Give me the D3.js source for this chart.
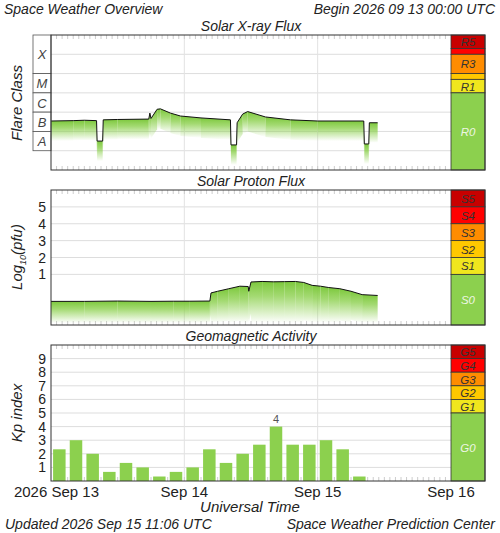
<!DOCTYPE html>
<html><head><meta charset="utf-8">
<script src="https://cdn.jsdelivr.net/npm/d3@7"></script>
<style>
body{margin:0;background:#fff;}
text{font-family:"Liberation Sans",Arial,sans-serif;fill:#222;}
.it{font-style:italic;}
</style></head><body>
<svg id="chart" width="500" height="533"></svg>
<script>
// hours since 2026 Sep 13 00:00 UTC, log10 flux (W/m2)
var xrayHours = [0, 4, 6, 8.2, 8.3, 9.3, 9.4, 12, 17.6, 17.8, 18, 19.1, 19.7, 21.5, 23.3, 27, 32.3, 32.4, 33.4, 33.5, 34.5, 35.4, 38.6, 43.1, 48, 56.3, 56.4, 57.2, 57.3, 58.8];
var xrayLog   = [-6.46, -6.44, -6.42, -6.44, -7.5, -7.5, -6.4, -6.38, -6.36, -6.05, -6.33, -5.85, -5.83, -6.05, -6.2, -6.3, -6.4, -7.7, -7.7, -6.55, -6.1, -5.97, -6.25, -6.4, -6.46, -6.46, -7.65, -7.65, -6.55, -6.55];
// log10 proton flux (pfu)
var protonHours = [0, 6, 12, 18, 22, 25, 28.6, 28.8, 30, 32, 34, 35.5, 35.6, 36, 38, 40, 42, 44, 45.5, 47, 48.5, 50, 52, 54, 56, 58.8];
var protonLog   = [-0.6, -0.6, -0.58, -0.6, -0.59, -0.59, -0.58, -0.1, 0.0, 0.15, 0.3, 0.28, 0.0, 0.55, 0.58, 0.56, 0.57, 0.58, 0.52, 0.35, 0.3, 0.22, 0.15, 0.0, -0.2, -0.25];
// 3-hourly Kp
var kpValues = [2.33, 3, 2, 0.67, 1.33, 1, 0.33, 0.67, 1, 2.33, 1.33, 2, 2.67, 4, 2.67, 2.67, 3, 2.33, 0.33];
var dayLabels = ["2026 Sep 13", "Sep 14", "Sep 15", "Sep 16"];
var flareClasses = ["X", "M", "C", "B", "A"];
var rScale = [{n:"R5",lo:-2.7,hi:-2,c:"#c80000"},{n:"R4",lo:-3,hi:-2.7,c:"#ff0000"},{n:"R3",lo:-4,hi:-3,c:"#ff8c00"},{n:"R2",lo:-4.3,hi:-4,c:"#ffc800"},{n:"R1",lo:-5,hi:-4.3,c:"#f0e61e"},{n:"R0",lo:-9,hi:-5,c:"#8cd04e"}];
var sScale = [{n:"S5",lo:5,hi:6,c:"#c80000"},{n:"S4",lo:4,hi:5,c:"#ff0000"},{n:"S3",lo:3,hi:4,c:"#ff8c00"},{n:"S2",lo:2,hi:3,c:"#ffc800"},{n:"S1",lo:1,hi:2,c:"#f0e61e"},{n:"S0",lo:-2,hi:1,c:"#8cd04e"}];
var gScale = [{n:"G5",lo:9,hi:10,c:"#c80000"},{n:"G4",lo:8,hi:9,c:"#ff0000"},{n:"G3",lo:7,hi:8,c:"#ff8c00"},{n:"G2",lo:6,hi:7,c:"#ffc800"},{n:"G1",lo:5,hi:6,c:"#f0e61e"},{n:"G0",lo:0,hi:5,c:"#8cd04e"}];
var green = "#8cd04e";

var svg = d3.select("#chart");
var x = d3.scaleLinear().domain([0, 72]).range([51, 451]);
var barX0 = 451, barX1 = 485;

svg.append("text").attr("class","it").attr("x",4).attr("y",14).attr("font-size",14).text("Space Weather Overview");
svg.append("text").attr("class","it").attr("x",495).attr("y",14).attr("text-anchor","end").attr("font-size",14).text("Begin 2026 09 13 00:00 UTC");

var defs = svg.append("defs");

function panel(top, bottom, yDomain, title, grid, bands){
    var y = d3.scaleLinear().domain(yDomain).range([bottom, top]);
    svg.append("text").attr("class","it").attr("x",251).attr("y",top-4).attr("text-anchor","middle").attr("font-size",14).text(title);
    svg.append("rect").attr("x",51).attr("y",top).attr("width",400).attr("height",bottom-top).attr("fill","#fff");
    var g = svg.append("g");
    grid.forEach(function(v){
        g.append("line").attr("x1",51).attr("x2",451).attr("y1",y(v)).attr("y2",y(v)).attr("stroke","#ddd");
    });
    [24,48].forEach(function(h){
        g.append("line").attr("x1",x(h)).attr("x2",x(h)).attr("y1",top).attr("y2",bottom).attr("stroke","#e2e2e2");
    });
    d3.range(1,72).forEach(function(h){
        g.append("line").attr("x1",x(h)).attr("x2",x(h)).attr("y1",top).attr("y2",top+4).attr("stroke","#ccc");
        g.append("line").attr("x1",x(h)).attr("x2",x(h)).attr("y1",bottom).attr("y2",bottom-4).attr("stroke","#ccc");
    });
    bands.forEach(function(b){
        var y0 = Math.max(y(b.hi), top), y1 = Math.min(y(b.lo), bottom);
        svg.append("rect").attr("x",barX0).attr("y",y0).attr("width",barX1-barX0).attr("height",y1-y0)
            .attr("fill",b.c).attr("stroke","#333").attr("stroke-width",0.8);
    });
    bands.forEach(function(b){
        var y0 = Math.max(y(b.hi), top), y1 = Math.min(y(b.lo), bottom);
        if (b.n == "R4" || b.n == "R2") return;
        svg.append("text").attr("class","it").attr("x",(barX0+barX1)/2).attr("y",(y0+y1)/2+4.5)
            .attr("text-anchor","middle").attr("font-size",11.5)
            .style("fill", b.n.slice(1)=="0" ? "#eef6e4" : "#333").text(b.n);
    });
    return y;
}

function fillArea(y, hours, vals, depth, id, top, bottom){
    var g = defs.append("linearGradient").attr("id",id).attr("x1",0).attr("x2",0).attr("y1",0).attr("y2",1);
    g.append("stop").attr("offset","0%").attr("stop-color","#7cc83c");
    g.append("stop").attr("offset","35%").attr("stop-color",green).attr("stop-opacity",0.8);
    g.append("stop").attr("offset","100%").attr("stop-color",green).attr("stop-opacity",0);
    var grp = svg.append("g");
    for (var i = 0; i < hours.length-1; i++){
        var x0 = x(hours[i]), x1 = x(hours[i+1]);
        var ya = y(vals[i]), yb = y(vals[i+1]);
        var d = Math.min(depth, bottom - Math.max(ya,yb) - 2);
        grp.append("path").attr("d","M"+x0+","+ya+"L"+x1+","+yb+"L"+x1+","+(yb+d)+"L"+x0+","+(ya+d)+"Z")
            .attr("fill","url(#"+id+")");
    }
    var line = d3.line().x(function(d,i){return x(hours[i]);}).y(function(d){return y(d);});
    svg.append("path").attr("d", line(vals)).attr("fill","none").attr("stroke","#111").attr("stroke-width",1);
}

// X-ray panel
var yX = panel(35, 170, [-9, -2], "Solar X-ray Flux", [-8,-7,-6,-5,-4,-3], rScale);
fillArea(yX, xrayHours, xrayLog, 20, "gx", 35, 170);
flareClasses.forEach(function(c, i){
    var lo = -4 - i, hi = (i==0) ? -2 : -3 - i;
    svg.append("rect").attr("x",33).attr("y",yX(hi)).attr("width",18).attr("height",yX(lo)-yX(hi))
        .attr("fill","#fff").attr("stroke","#555").attr("stroke-width",0.8);
    svg.append("text").attr("class","it").attr("x",42).attr("y",(yX(lo)+yX(hi))/2+5).attr("text-anchor","middle")
        .attr("font-size",13).style("fill","#444").text(c);
});
svg.append("text").attr("class","it").attr("transform","translate(22,103) rotate(-90)").attr("text-anchor","middle").attr("font-size",15).text("Flare Class");

// Proton panel
var yP = panel(190, 325, [-2, 6], "Solar Proton Flux", [1,2,3,4,5], sScale);
fillArea(yP, protonHours, protonLog, 45, "gp", 190, 325);
[1,2,3,4,5].forEach(function(v){
    svg.append("text").attr("x",46).attr("y",yP(v)+5).attr("text-anchor","end").attr("font-size",14).text(v);
});
var pl = svg.append("text").attr("class","it").attr("transform","translate(22,257) rotate(-90)").attr("text-anchor","middle").attr("font-size",15);
pl.append("tspan").text("Log");
pl.append("tspan").attr("font-size",9).attr("dy",4).text("10");
pl.append("tspan").attr("dy",-4).text("(pfu)");

// Kp panel
var yK = panel(345, 481, [0, 10], "Geomagnetic Activity", [1,2,3,4,5,6,7,8,9], gScale);
var band = d3.scaleBand().domain(d3.range(24)).range([51, 451]).paddingInner(0.25).paddingOuter(0.125);
svg.append("g").selectAll("rect").data(kpValues).join("rect")
    .attr("x", function(d,i){return band(i);}).attr("width", band.bandwidth())
    .attr("y", function(d){return yK(d);}).attr("height", function(d){return yK(0)-yK(d);})
    .attr("fill", green);
var maxKp = d3.max(kpValues), maxI = kpValues.indexOf(maxKp);
svg.append("text").attr("x", band(maxI)+band.bandwidth()/2).attr("y", yK(maxKp)-4).attr("text-anchor","middle")
    .attr("font-size",11).style("fill","#555").text(Math.round(maxKp));
d3.range(1,10).forEach(function(v){
    svg.append("text").attr("x",46).attr("y",yK(v)+5).attr("text-anchor","end").attr("font-size",14).text(v);
});
svg.append("text").attr("class","it").attr("transform","translate(22,413) rotate(-90)").attr("text-anchor","middle").attr("font-size",15).text("Kp index");

// frames
[[35,170],[190,325],[345,481]].forEach(function(p){
    svg.append("rect").attr("x",51).attr("y",p[0]).attr("width",434).attr("height",p[1]-p[0])
        .attr("fill","none").attr("stroke","#333").attr("stroke-width",1);
});

// time axis
dayLabels.forEach(function(t, i){
    svg.append("text").attr("x", i==0 ? x(0)+8 : x(i*24)).attr("y",497).attr("text-anchor", i==0 ? "end" : "middle")
        .attr("font-size",15).attr("dx", i==0 ? 40 : 0).text(t);
});
svg.append("text").attr("class","it").attr("x",250).attr("y",512).attr("text-anchor","middle").attr("font-size",15).text("Universal Time");
svg.append("text").attr("class","it").attr("x",5).attr("y",529).attr("font-size",14).text("Updated 2026 Sep 15 11:06 UTC");
svg.append("text").attr("class","it").attr("x",495).attr("y",529).attr("text-anchor","end").attr("font-size",14).text("Space Weather Prediction Center");
</script></body></html>
